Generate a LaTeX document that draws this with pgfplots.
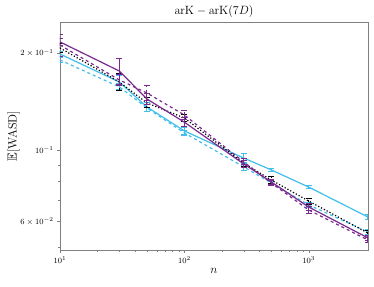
\documentclass[border=0pt]{standalone}
\usepackage{pgfplots}
\usepackage{amssymb}
\pgfplotsset{compat=1.18}
\definecolor{mpurple}{RGB}{122,42,142}
\definecolor{mcyan}{RGB}{64,190,236}
\definecolor{frame}{RGB}{128,128,128}
\begin{document}
\begin{tikzpicture}
\begin{axis}[
  scale only axis, width=308pt, height=228pt,
  xmode=log, ymode=log,
  xmin=10, xmax=3000, ymin=0.0489, ymax=0.2497,
  axis line style={frame, line width=0.8pt},
  tick style={frame}, tick align=outside,
  xtick pos=bottom, ytick pos=left,
  ytick={0.06,0.1,0.2},
  yticklabels={$6\times10^{-2}$,$10^{-1}$,$2\times10^{-1}$},
  minor ytick={0.05,0.07,0.08,0.09,0.3},
  xtick={10,100,1000},
  xticklabels={$10^{1}$,$10^{2}$,$10^{3}$},
  major tick length=3pt, minor tick length=1.8pt,
  ticklabel style={font=\fontsize{8.5}{9}\selectfont},
  title={$\mathrm{arK}-\mathrm{arK}(7D)$},
  every axis title/.style={at={(0.5,1)}, anchor=base, yshift=7pt, font=\fontsize{13}{14}\selectfont},
  xlabel={$n$}, ylabel={$\mathbb{E}[\mathrm{WASD}]$},
  label style={font=\fontsize{13}{14}\selectfont},
  xlabel style={yshift=2pt},
  ylabel style={yshift=-6pt},
  error bars/error bar style={line width=1pt},
  error bars/error mark options={rotate=90, mark size=3pt, line width=1pt},
  every axis plot/.append style={line width=1.2pt},
]
\coordinate (sw) at (rel axis cs:0,0);
\coordinate (ne) at (rel axis cs:1,1);
% cyan dashed
\addplot[mcyan, dashed, error bars/.cd, y dir=both, y explicit] coordinates {
 (10,0.1903) +- (0,0.004) (30,0.157) +- (0,0.004) (50,0.135) +- (0,0.003) (100,0.113) +- (0,0.002)
 (300,0.0886) +- (0,0.002) (500,0.079) +- (0,0.001) (1000,0.0675) +- (0,0.001) (3000,0.0556) +- (0,0.001)};
% cyan solid
\addplot[mcyan, error bars/.cd, y dir=both, y explicit] coordinates {
 (10,0.1986) +- (0,0.004) (30,0.1626) +- (0,0.008) (50,0.136) +- (0,0.004) (100,0.1146) +- (0,0.003)
 (300,0.0944) +- (0,0.003) (500,0.0867) +- (0,0.001) (1000,0.0767) +- (0,0.001) (3000,0.0619) +- (0,0.001)};
% black dotted
\addplot[black, dotted, error bars/.cd, y dir=both, y explicit] coordinates {
 (10,0.2074) +- (0,0.006) (30,0.1626) +- (0,0.01) (50,0.140) +- (0,0.005) (100,0.1257) +- (0,0.003)
 (300,0.091) +- (0,0.002) (500,0.0807) +- (0,0.002) (1000,0.0694) +- (0,0.0015) (3000,0.0552) +- (0,0.001)};
% purple dashed
\addplot[mpurple, dashed, error bars/.cd, y dir=both, y explicit] coordinates {
 (10,0.2118) +- (0,0.016) (30,0.165) +- (0,0.006) (50,0.1503) +- (0,0.008) (100,0.1284) +- (0,0.004)
 (300,0.0918) +- (0,0.002) (500,0.079) +- (0,0.0015) (1000,0.0651) +- (0,0.0015) (3000,0.0525) +- (0,0.001)};
% purple solid
\addplot[mpurple, error bars/.cd, y dir=both, y explicit] coordinates {
 (10,0.2165) +- (0,0.006) (30,0.1759) +- (0,0.016) (50,0.144) +- (0,0.006) (100,0.122) +- (0,0.004)
 (300,0.0905) +- (0,0.002) (500,0.0796) +- (0,0.0015) (1000,0.0665) +- (0,0.0015) (3000,0.0533) +- (0,0.001)};
\end{axis}
\pgfresetboundingbox
\path ([shift={(-60pt,-37pt)}]sw) rectangle ([shift={(6pt,22pt)}]ne);
\end{tikzpicture}
\end{document}
